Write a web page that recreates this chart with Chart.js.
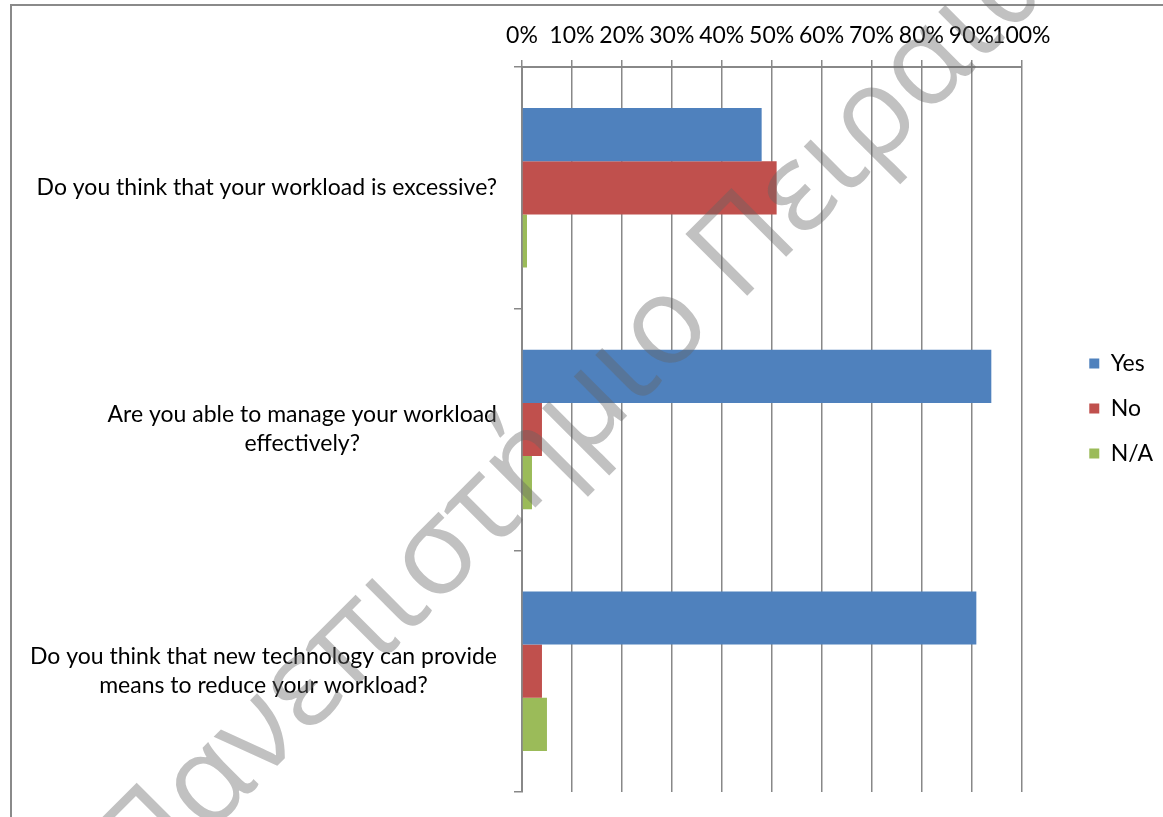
<!DOCTYPE html>
<html>
<head>
<meta charset="utf-8">
<script src="https://cdn.jsdelivr.net/npm/chart.js@4"></script>
<style>
    body   { margin: 0; background: #ffffff; overflow: hidden; }
    #Frame { position: absolute; left: 10px; top: 4px; width: 1200px; height: 900px; border-left: 2px solid #8a8a8a; border-top: 2px solid #8a8a8a; }
    #ChartCanvas1 { position: absolute; left: 0; top: 0; }
</style>
</head>
<body>
<div id="Frame"></div>
<canvas id="ChartCanvas1" width="1163" height="817"></canvas>
<script>
// Questions (each one split into the lines shown on the axis)
const categories =
[
    ['Do you think that your workload is excessive?'],
    ['Are you able to manage your workload', 'effectively?'],
    ['Do you think that new technology can provide', 'means to reduce your workload?']
];

// Percentages
const yesValues = [48, 94, 91];
const noValues  = [51,  4,  4];
const naValues  = [ 1,  2,  5];

const seriesNames  = ['Yes', 'No', 'N/A'];
const seriesColors = ['#4F81BD', '#C0504D', '#9BBB59'];

const watermarkText = 'Πανεπιστήμιο Πειραιώς';

Initialize();

function Initialize()
{
    const ctx = document.getElementById('ChartCanvas1').getContext('2d');

    Chart.defaults.font.family = 'Lato';
    Chart.defaults.font.size   = 23;
    Chart.defaults.color       = '#000000';

    // Excel style labels: lines centred, whole block right aligned next to the axis
    const categoryLabels =
    {
        id: 'categoryLabels',
        afterDraw(chart)
        {
            const c     = chart.ctx;
            const scale = chart.scales.y;
            c.save();
            c.font         = '23px Lato';
            c.fillStyle    = '#000000';
            c.textAlign    = 'center';
            c.textBaseline = 'middle';
            categories.forEach((lines, i) =>
            {
                const y      = scale.getPixelForTick(i);
                const widest = Math.max(...lines.map(l => c.measureText(l).width));
                const x      = chart.chartArea.left - 25 - widest / 2;
                lines.forEach((line, j) => c.fillText(line, x, y + (j - (lines.length - 1) / 2) * 29));
            });
            c.restore();
        }
    };

    // Grey diagonal watermark lying over the whole picture
    const watermark =
    {
        id: 'watermark',
        afterDraw(chart)
        {
            const c = chart.ctx;
            c.save();
            c.translate(144, 899);
            c.rotate(-Math.PI / 4);
            c.font = '144px "Open Sans"';
            const size = 144 * 841 / c.measureText('Πανεπιστήμιο ').width;
            c.font = size + 'px "Open Sans"';
            c.fillStyle    = 'rgba(100, 100, 100, 0.4)';
            c.textBaseline = 'alphabetic';
            c.textAlign    = 'left';
            c.fillText(watermarkText, 0, 0);
            c.restore();
        }
    };

    const chart = new Chart(ctx,
    {
        type: 'bar',
        data:
        {
            labels: categories,
            datasets:
            [
                { label: seriesNames[0], data: yesValues, backgroundColor: seriesColors[0] },
                { label: seriesNames[1], data: noValues,  backgroundColor: seriesColors[1] },
                { label: seriesNames[2], data: naValues,  backgroundColor: seriesColors[2] }
            ]
        },
        options:
        {
            indexAxis: 'y',
            responsive: false,
            animation: false,
            devicePixelRatio: 1,
            datasets: { bar: { categoryPercentage: 0.66, barPercentage: 1, borderWidth: 0 } },
            layout: { padding: { top: 0, left: 0, bottom: 0, right: 0 } },
            plugins:
            {
                tooltip: { enabled: false },
                legend:
                {
                    position: 'right',
                    labels: { boxWidth: 10, boxHeight: 10, padding: 22, color: '#000000', font: { size: 23 } }
                }
            },
            scales:
            {
                x:
                {
                    type: 'linear',
                    position: 'top',
                    min: 0,
                    max: 100,
                    ticks: { stepSize: 10, padding: 11, maxRotation: 0, minRotation: 0, autoSkip: false, color: '#000000', callback: v => v + '%' },
                    grid: { color: '#888888', lineWidth: 1.5, tickLength: 7 },
                    border: { color: '#888888', width: 2 },
                    afterFit: s => { s.height = 67; }
                },
                y:
                {
                    type: 'category',
                    position: 'left',
                    offset: true,
                    ticks: { display: false },
                    grid: { offset: true, drawOnChartArea: false, drawTicks: true, tickLength: 8, color: '#888888', lineWidth: 1.5 },
                    border: { color: '#888888', width: 2 },
                    afterFit: s => { s.width = 522; }
                },
                // empty spacers: gap before the legend and the strip under the plot
                y2:
                {
                    type: 'category',
                    position: 'right',
                    grid: { display: false },
                    ticks: { display: false },
                    border: { display: false },
                    afterFit: s => { s.width = 46; }
                },
                x2:
                {
                    type: 'linear',
                    position: 'bottom',
                    grid: { display: false },
                    ticks: { display: false },
                    border: { display: false },
                    afterFit: s => { s.height = 25; }
                }
            }
        },
        plugins: [categoryLabels, watermark]
    });
}
</script>
</body>
</html>
